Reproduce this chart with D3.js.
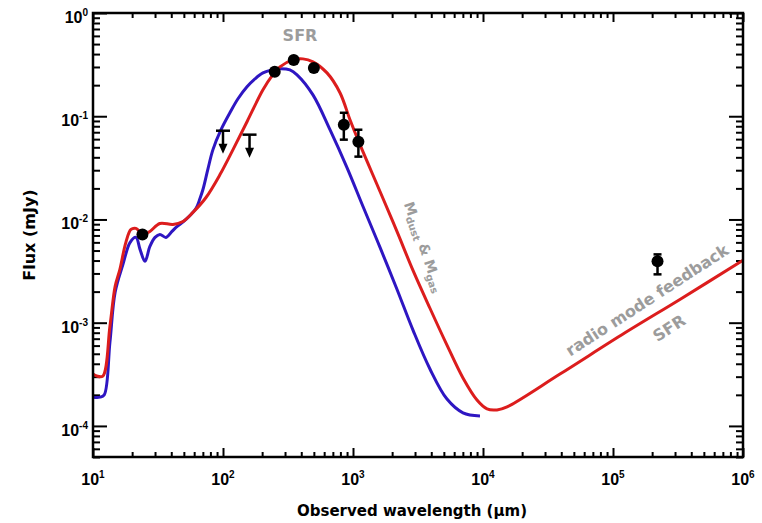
<!DOCTYPE html>
<html><head><meta charset="utf-8">
<script src="https://cdn.jsdelivr.net/npm/d3@7"></script>
<style>body{margin:0;background:#fff}</style>
</head><body>
<svg id="chart" width="762" height="523"></svg>
<script>
// ---- data (wavelength in micron, flux in mJy) ----
const blueWl = [10, 11.3, 12.2, 13.5, 14.8, 17.0, 19.3, 21.4, 23.0, 25.1, 27.4, 30.0, 32.7, 36.4, 40.5, 43.5, 51.9, 61.9, 66.5, 70.1, 76.7, 83.7, 96.6, 113, 130.4, 153, 176.2, 203, 238.2, 274, 327, 371, 492, 665, 899, 1194, 1614, 2178, 2894, 3908, 5284, 7015, 9480];
const blueFlux = [1.9e-4, 1.9e-4, 2.0e-4, 6.48e-4, 1.97e-3, 3.67e-3, 6.0e-3, 6.7e-3, 5.13e-3, 3.93e-3, 5.48e-3, 6.7e-3, 7.16e-3, 6.7e-3, 7.66e-3, 8.37e-3, 1.0e-2, 1.277e-2, 1.595e-2, 1.95e-2, 3.11e-2, 4.75e-2, 0.0741, 0.108, 0.1476, 0.193, 0.2303, 0.263, 0.281, 0.288, 0.281, 0.252, 0.161, 0.0741, 0.0318, 0.01336, 5.36e-3, 2.11e-3, 8.47e-4, 3.56e-4, 1.82e-4, 1.34e-4, 1.25e-4];
const redWl = [10, 10.7, 11.9, 13.5, 14.8, 16.1, 17.9, 19.6, 21.4, 24.2, 27.4, 32.7, 41.2, 49.2, 58.7, 74.0, 94.8, 119.4, 153, 203, 238.2, 274, 345, 412, 492, 631, 794, 948, 1132, 1614, 2178, 2894, 3908, 5284, 7015, 8990, 10740, 12820, 15310, 39080, 1.236e5, 3.27e5, 1e6];
const redFlux = [3.18e-4, 3.04e-4, 3.04e-4, 9.25e-4, 2.25e-3, 3.29e-3, 6.0e-3, 8.0e-3, 8.19e-3, 7.16e-3, 7.66e-3, 9.15e-3, 8.95e-3, 9.57e-3, 1.17e-2, 1.632e-2, 2.72e-2, 4.75e-2, 8.85e-2, 0.1803, 0.246, 0.301, 0.352, 0.3594, 0.3363, 0.263, 0.169, 0.0925, 0.0530, 1.865e-2, 7.66e-3, 3.21e-3, 1.38e-3, 6.06e-4, 2.91e-4, 1.78e-4, 1.46e-4, 1.43e-4, 1.53e-4, 3.18e-4, 7.98e-4, 1.68e-3, 4.02e-3];
const detWl = [24, 250, 350, 500, 850, 1100, 2.2e5];
const detFlux = [0.00716, 0.269, 0.351, 0.294, 0.0828, 0.0567, 0.00393];
const detErrLo = [null, null, null, null, 0.0593, 0.0406, 0.00294];
const detErrHi = [null, null, null, null, 0.108, 0.074, 0.00459];
const ulWl = [100, 160];
const ulFlux = [0.0724, 0.0663];
const xTickExp = [1, 2, 3, 4, 5, 6];
const yTickExp = [0, -1, -2, -3, -4];
const xLabel = "Observed wavelength (\u00b5m)";
const yLabel = "Flux (mJy)";

// ---- layout ----
const svg = d3.select("#chart");
const L = 93, R = 743, T = 13, B = 457;
const x = d3.scaleLog().domain([10, 1e6]).range([L, R]);
const y = d3.scaleLog().domain([5e-5, 1]).range([B, T]);
const RED = "#dc1d1d", BLUE = "#2e16c2";

svg.append("defs").append("clipPath").attr("id", "clip")
  .append("rect").attr("x", L).attr("y", T).attr("width", R - L).attr("height", B - T);

// minor / major tick values
const xMajor = xTickExp.map(e => Math.pow(10, e));
const xMinor = [];
for (let e = 1; e < 6; e++) for (let m = 2; m <= 9; m++) xMinor.push(m * Math.pow(10, e));
const yMajor = yTickExp.map(e => Math.pow(10, e));
const yMinor = [];
for (let e = -5; e < 0; e++) for (let m = 2; m <= 9; m++) { const v = m * Math.pow(10, e); if (v >= 5e-5 && v <= 1) yMinor.push(v); }

function ticks(axisFn, scale, vals, size, tr) {
  const g = svg.append("g").attr("transform", tr)
    .call(axisFn(scale).tickValues(vals).tickSize(size).tickSizeOuter(0).tickFormat(""));
  g.select(".domain").remove();
  g.selectAll("line").attr("stroke", "#000").attr("stroke-width", 2);
}
ticks(d3.axisBottom, x, xMinor, -5, `translate(0,${B})`);
ticks(d3.axisBottom, x, xMajor, -9, `translate(0,${B})`);
ticks(d3.axisTop, x, xMinor, -5, `translate(0,${T})`);
ticks(d3.axisTop, x, xMajor, -9, `translate(0,${T})`);
ticks(d3.axisLeft, y, yMinor, -7, `translate(${L},0)`);
ticks(d3.axisLeft, y, yMajor, -14, `translate(${L},0)`);
ticks(d3.axisRight, y, yMinor, -7, `translate(${R},0)`);
ticks(d3.axisRight, y, yMajor, -14, `translate(${R},0)`);

// tick labels
const tickFont = "'Liberation Sans', Arial, sans-serif";
svg.append("g").selectAll("text").data(xTickExp).join("text")
  .attr("x", d => x(Math.pow(10, d))).attr("y", B + 28)
  .attr("text-anchor", "middle").attr("font-family", tickFont)
  .attr("font-weight", "bold").attr("font-size", 16).attr("fill", "#000")
  .each(function (d) {
    const t = d3.select(this);
    t.append("tspan").text("10");
    t.append("tspan").attr("font-size", 10).attr("dy", -7).text(String(d));
  });
svg.append("g").selectAll("text").data(yTickExp).join("text")
  .attr("x", L - 5).attr("y", d => y(Math.pow(10, d)) + 10)
  .attr("text-anchor", "end").attr("font-family", tickFont)
  .attr("font-weight", "bold").attr("font-size", 16).attr("fill", "#000")
  .each(function (d) {
    const t = d3.select(this);
    t.append("tspan").text("10");
    t.append("tspan").attr("font-size", 10).attr("dy", -7).text(String(d));
  });

// axis titles
const titleFont = "'DejaVu Sans', Verdana, sans-serif";
svg.append("text").attr("x", 412).attr("y", 516).attr("text-anchor", "middle")
  .attr("font-family", titleFont).attr("font-weight", "bold").attr("font-size", 15)
  .text(xLabel);
svg.append("text").attr("transform", "translate(35,235) rotate(-90)").attr("text-anchor", "middle")
  .attr("font-family", titleFont).attr("font-weight", "bold").attr("font-size", 16)
  .text(yLabel);

// curves
const line = d3.line().x(d => x(d[0])).y(d => y(d[1])).curve(d3.curveCatmullRom.alpha(0.5));
const plot = svg.append("g").attr("clip-path", "url(#clip)");
plot.append("path").datum(d3.zip(blueWl, blueFlux)).attr("d", line)
  .attr("fill", "none").attr("stroke", BLUE).attr("stroke-width", 3).attr("stroke-linejoin", "round");
plot.append("path").datum(d3.zip(redWl, redFlux)).attr("d", line)
  .attr("fill", "none").attr("stroke", RED).attr("stroke-width", 3).attr("stroke-linejoin", "round");

// detections with error bars
const det = detWl.map((w, i) => ({ w, f: detFlux[i], lo: detErrLo[i], hi: detErrHi[i] }));
const pts = svg.append("g");
det.filter(d => d.lo !== null).forEach(d => {
  const cx = x(d.w);
  pts.append("line").attr("x1", cx).attr("x2", cx).attr("y1", y(d.lo)).attr("y2", y(d.hi))
    .attr("stroke", "#000").attr("stroke-width", 2.5);
  [d.lo, d.hi].forEach(v => pts.append("line").attr("x1", cx - 4).attr("x2", cx + 4)
    .attr("y1", y(v)).attr("y2", y(v)).attr("stroke", "#000").attr("stroke-width", 2.5));
});
pts.selectAll("circle").data(det).join("circle")
  .attr("cx", d => x(d.w)).attr("cy", d => y(d.f)).attr("r", 6).attr("fill", "#000");

// upper limits
const ul = ulWl.map((w, i) => ({ w, f: ulFlux[i] }));
ul.forEach(d => {
  const cx = x(d.w), cy = y(d.f);
  pts.append("line").attr("x1", cx - 7).attr("x2", cx + 7).attr("y1", cy).attr("y2", cy)
    .attr("stroke", "#000").attr("stroke-width", 2.5);
  pts.append("line").attr("x1", cx).attr("x2", cx).attr("y1", cy).attr("y2", cy + 15)
    .attr("stroke", "#000").attr("stroke-width", 2.5);
  pts.append("path").attr("d", `M${cx - 4.5},${cy + 13}L${cx + 4.5},${cy + 13}L${cx},${cy + 23}Z`)
    .attr("fill", "#000");
});

// annotations
const ann = svg.append("g").attr("fill", "#9c9c9c").attr("font-family", titleFont).attr("font-weight", "bold");
ann.append("text").attr("x", 300).attr("y", 41).attr("text-anchor", "middle").attr("font-size", 16).text("SFR");
const m = ann.append("text").attr("transform", "translate(424,247) rotate(71)")
  .attr("text-anchor", "middle").attr("font-size", 14);
m.append("tspan").attr("dy", 5).text("M");
m.append("tspan").attr("font-size", 10).attr("dy", 3).text("dust");
m.append("tspan").attr("dy", -3).text(" & M");
m.append("tspan").attr("font-size", 10).attr("dy", 3).text("gas");
ann.append("text").attr("transform", "translate(647,300) rotate(-33)")
  .attr("text-anchor", "middle").attr("dy", "0.36em").attr("font-size", 16).text("radio mode feedback");
ann.append("text").attr("transform", "translate(669,328) rotate(-33)")
  .attr("text-anchor", "middle").attr("dy", "0.36em").attr("font-size", 16).text("SFR");

// frame
svg.append("rect").attr("x", L).attr("y", T).attr("width", R - L).attr("height", B - T)
  .attr("fill", "none").attr("stroke", "#000").attr("stroke-width", 2.5);
</script>
</body></html>
